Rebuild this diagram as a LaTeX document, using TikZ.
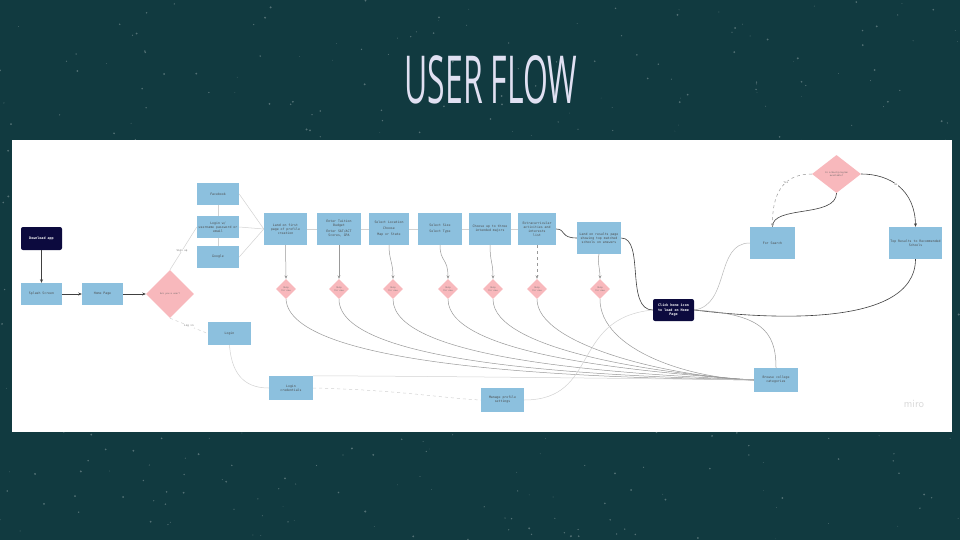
\documentclass[tikz,border=0pt]{standalone}
\usepackage{fontspec}
\usepackage{graphicx}
\newfontfamily\titlefont{Open Sans}
\setmonofont{DejaVu Sans Mono}
\usetikzlibrary{shapes.geometric,arrows.meta}
\definecolor{bgteal}{RGB}{17,58,64}
\definecolor{boxblue}{RGB}{140,192,222}
\definecolor{boxpink}{RGB}{248,184,188}
\definecolor{navy}{RGB}{12,10,62}
\definecolor{titlecol}{RGB}{224,224,242}
\tikzset{
  box/.style={fill=boxblue, minimum width=43pt, minimum height=22pt, inner sep=1pt, align=center,
    font=\ttfamily\fontsize{3.2}{4}\selectfont, text=black!70},
  tallbox/.style={box, minimum height=32pt},
  darkbox/.style={box, fill=navy, rounded corners=2pt, text=white, font=\ttfamily\bfseries\fontsize{3.4}{4.2}\selectfont},
  dia/.style={diamond, fill=boxpink, inner sep=0pt, minimum width=20pt, minimum height=20pt, align=center,
    font=\ttfamily\fontsize{2.2}{2.8}\selectfont, text=black!60},
  darklink/.style={draw=black!75, line width=0.6pt},
  graylink/.style={draw=gray!80, line width=0.5pt},
  lightlink/.style={draw=gray!35, line width=0.5pt},
  tip/.style={-{Stealth[length=3.5pt,width=3pt]}},
  lbl/.style={font=\ttfamily\fontsize{2.6}{3}\selectfont, text=black!55, fill=white, inner sep=0.5pt}
}
\begin{document}
\begin{tikzpicture}[x=1pt,y=-1pt]
\useasboundingbox (0,0) rectangle (960,540);
\fill[bgteal] (0,0) rectangle (960,540);
\pgfmathsetseed{7}
\foreach \i in {1,...,550}{
  \pgfmathsetmacro\xx{rnd*960}
  \pgfmathsetmacro\yy{rnd*540}
  \pgfmathsetmacro\rr{0.3+rnd*0.8}
  \fill[white,opacity=0.28] (\xx,\yy) circle (\rr pt);
}
\node[text=titlecol, inner sep=0pt] (title) at (491,80) {\titlefont\resizebox{173pt}{48pt}{USER FLOW}};
\fill[white] (12,140) rectangle (952,432);
\node[text=gray!30, font=\sffamily\fontsize{11}{11}\selectfont] (miro) at (914,404) {miro};

% nodes
\node[darkbox, minimum width=41pt, minimum height=23pt] (dl) at (41.5,238.5) {Download app};
\node[box, minimum width=41pt] (splash) at (41.5,294) {Splash Screen};
\node[box, minimum width=41pt] (home) at (102.5,294) {Home Page};
\node[dia, minimum width=48pt, minimum height=48pt] (q) at (170,294) {Are you a user?};
\node[box, minimum width=42pt] (fb) at (218,194) {Facebook};
\node[box, minimum width=42pt] (lw) at (218,227) {Login w/\\username password or\\email};
\node[box, minimum width=42pt] (gg) at (218,257) {Google};
\node[box, minimum width=43pt, minimum height=23pt] (login) at (229.5,333.5) {Login};
\node[tallbox] (land) at (285.5,229) {Land on first\\page of profile\\creation};
\node[tallbox, minimum width=44pt] (tuit) at (339,229) {Enter Tuition\\Budget\\[2pt]Enter SAT/ACT\\Scores, GPA};
\node[tallbox, minimum width=40pt] (b3) at (389,229) {Select Location\\[2pt]Choose\\[2pt]Map or State};
\node[tallbox, minimum width=44pt] (b4) at (440,229) {Select Size\\[2pt]Select Type};
\node[tallbox, minimum width=42pt] (b5) at (490,229) {Choose up to three\\intended majors};
\node[tallbox, minimum width=38pt] (b6) at (537,229) {Extracurricular\\activities and\\interests\\list};
\node[tallbox, minimum width=44pt] (b7) at (599,238) {Land on results page\\showing top matched\\schools on answers};
\node[darkbox, minimum width=41pt, minimum height=22pt] (hicon) at (673.5,310) {Click home icon\\to load on Home\\Page};
\node[tallbox, minimum width=45pt] (search) at (772.5,243) {For Search};
\node[tallbox, minimum width=45pt] (rec) at (915.5,243) {Top Results to Recommended\\Schools};
\node[dia, minimum width=49pt, minimum height=38pt] (top) at (836.5,174) {Is school/program\\available?};
\node[box, minimum width=44pt, minimum height=24pt] (browse) at (776,380) {Browse college\\categories};
\node[box, minimum width=44pt, minimum height=24pt] (cred) at (291,388) {Login\\credentials};
\node[box, minimum width=43pt, minimum height=24pt] (manage) at (502.5,400) {Manage profile\\settings};

\foreach \n/\x in {d1/286,d2/339,d3/393,d4/448,d5/493,d6/537,d7/600}{
  \node[dia] (\n) at (\x,289) {Skip\\for now};
}

% connectors: left part
\draw[darklink,tip] (dl) -- (splash);
\draw[darklink,tip] (splash) -- (home);
\draw[darklink,tip] (home) -- (q);
\draw[lightlink] (q.north) -- node[lbl, pos=0.45]{Sign up} (lw.west);
\draw[lightlink,dashed] (q.south) -- node[lbl, pos=0.5]{Log in} (login.west);
\draw[lightlink] (fb) -- (lw);
\draw[lightlink] (lw) -- (gg);
\draw[lightlink] (fb.east) -- (land.west);
\draw[lightlink] (lw.east) -- (land.west);
\draw[lightlink] (gg.east) -- (land.west);
\draw[lightlink] (land) -- (tuit);
\draw[lightlink] (tuit) -- (b3);
\draw[lightlink] (b3) -- (b4);
\draw[lightlink] (b4) -- (b5);
\draw[lightlink] (b5) -- (b6);
\draw[darklink] (b6.east) .. controls (566,229) and (560,238) .. (b7.west);
\draw[darklink] (b7.east) .. controls (645,238) and (625,310) .. (hicon.west);

% boxes to small diamonds
\draw[graylink,tip] (land.south) -- (d1.north);
\draw[graylink,tip] (tuit.south) -- (d2.north);
\draw[graylink,tip] (b3.south) .. controls (389,260) and (393,262) .. (d3.north);
\draw[graylink,tip] (b4.south) .. controls (440,262) and (448,258) .. (d4.north);
\draw[graylink,tip] (b5.south) .. controls (490,262) and (493,262) .. (d5.north);
\draw[graylink,tip,dashed] (b6.south) -- (d6.north);
\draw[graylink,tip] (b7.south) .. controls (597,262) and (600,268) .. (d7.north);

% small diamonds to browse
\draw[graylink] (d1.south) .. controls (290,365) and (560,378) .. (browse.west);
\draw[graylink] (d2.south) .. controls (339,365) and (600,376) .. (browse.west);
\draw[graylink] (d3.south) .. controls (393,360) and (620,374) .. (browse.west);
\draw[graylink] (d4.south) .. controls (448,355) and (640,372) .. (browse.west);
\draw[graylink] (d5.south) .. controls (493,350) and (660,374) .. (browse.west);
\draw[graylink] (d6.south) .. controls (537,345) and (670,377) .. (browse.west);
\draw[graylink] (d7.south) .. controls (600,350) and (690,379) .. (browse.west);

% lower-left light links
\draw[lightlink] (login.south) .. controls (232,380) and (250,388) .. (cred.west);
\draw[lightlink] (cred.north east) .. controls (400,376) and (600,378) .. (browse.west);
\draw[lightlink,dashed] (cred.east) .. controls (400,390) and (440,398) .. (manage.west);
\draw[lightlink] (manage.east) .. controls (600,400) and (570,318) .. (hicon.west);

% right part
\draw[lightlink, draw=gray!55] (hicon.east) .. controls (730,305) and (715,243) .. (search.west);
\draw[darklink] (search.north) .. controls (772,205) and (836,218) .. (top.south);
\draw[graylink,dashed,tip] (top.west) .. controls (790,174) and (772,185) .. node[lbl,pos=0.45]{Yes} (search.north);
\draw[darklink,tip] (top.east) .. controls (890,174) and (915,190) .. node[lbl,pos=0.45]{No} (rec.north);
\draw[darklink] (rec.south) .. controls (915,330) and (760,318) .. (hicon.east);
\draw[graylink] (hicon.east) .. controls (760,314) and (776,330) .. (browse.north);
\end{tikzpicture}
\end{document}
